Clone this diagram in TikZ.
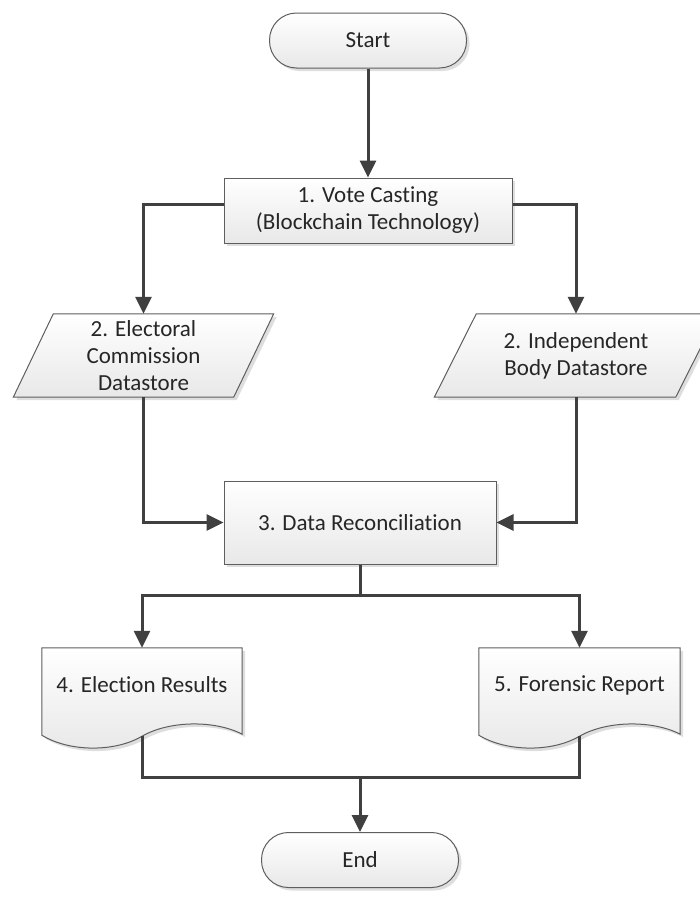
\documentclass[tikz,border=0pt]{standalone}
\usepackage{fontspec}
\setmainfont{Carlito}[Ligatures=NoCommon]
\usepackage{tikz}
\usetikzlibrary{arrows.meta}
\usetikzlibrary{calc,shadows}
\pgfdeclarelayer{background}
\pgfsetlayers{background,main}
\definecolor{linegray}{HTML}{404040}
\definecolor{edgegray}{HTML}{5E5E5E}
\definecolor{textgray}{HTML}{262626}
\tikzset{
    shapefill/.style={draw=edgegray, line width=1pt, top color=white, bottom color=black!9,
        drop shadow={shadow xshift=3pt, shadow yshift=-3pt, fill=black!13, opacity=1}},
    flowtext/.style={font=\fontsize{23}{27}\selectfont, text=textgray, align=center},
    terminal/.style={shapefill, flowtext, rectangle, rounded corners=27pt,
        minimum width=197pt, minimum height=55pt},
    process/.style={shapefill, flowtext, rectangle},
    textonly/.style={flowtext, draw=none, inner sep=0pt},
    flowline/.style={draw=linegray, line width=3pt},
    flowarrow/.style={flowline, -{Triangle[length=17pt,width=16pt]}},
}
\begin{document}
\begin{tikzpicture}[x=1pt, y=-1pt]
    \useasboundingbox (0,0) rectangle (700,897);
    % terminals and process boxes
    \node[terminal] (start) at (368,40.5) {Start};
    \node[process, minimum width=288pt, minimum height=65pt] (vote) at (368,210.5)
        {1. Vote Casting\\(Blockchain Technology)};
    \node[process, minimum width=272pt, minimum height=83pt] (rec) at (360,522.5)
        {3. Data Reconciliation};
    \node[terminal] (end) at (360,860) {End};
    % datastores
    \node[textonly, minimum width=220pt, minimum height=83pt] (ec) at (143.5,355.5)
        {2. Electoral\\Commission\\Datastore};
    \node[textonly, minimum width=241pt, minimum height=83pt] (ib) at (576,355.5)
        {2. Independent\\Body Datastore};
    % documents
    \node[textonly, minimum width=200pt, minimum height=74pt] (er) at (142,685)
        {4. Election Results};
    \node[textonly, minimum width=201pt, minimum height=74pt] (fr) at (579.5,685)
        {5. Forensic Report};
    \coordinate (er-b) at ($(er.south)+(0,14)$);
    \coordinate (fr-b) at ($(fr.south)+(0,14)$);

    \begin{pgfonlayer}{background}
        \path[shapefill] ($(ec.south west)+(-20,0)$) -- ($(ec.north west)+(20,0)$)
            -- ($(ec.north east)+(20,0)$) -- ($(ec.south east)+(-20,0)$) -- cycle;
        \path[shapefill] ($(ib.south west)+(-21,0)$) -- ($(ib.north west)+(21,0)$)
            -- ($(ib.north east)+(21,0)$) -- ($(ib.south east)+(-21,0)$) -- cycle;
        \foreach \doc in {er,fr} {
            \path[shapefill] (\doc.north west) -- ($(\doc.south west)+(0,13)$)
                .. controls +(28,17) and +(-27,16) .. (\doc-b)
                .. controls +(28,-16) and +(-27,-14) .. ($(\doc.south east)+(0,12)$)
                -- (\doc.north east) -- cycle;
        }
    \end{pgfonlayer}

    % connectors
    \draw[flowarrow] (start.south) -- (vote.north);
    \draw[flowarrow] ([yshift=6pt]vote.west) -| (ec.north);
    \draw[flowarrow] ([yshift=6pt]vote.east) -| (ib.north);
    \draw[flowarrow] (ec.south) |- (rec.west);
    \draw[flowarrow] (ib.south) |- (rec.east);
    \coordinate (split) at (360,595);
    \draw[flowline] (rec.south) -- (split);
    \draw[flowarrow] (split) -| (er.north);
    \draw[flowarrow] (split) -| (fr.north);
    \coordinate (join) at (360,777);
    \draw[flowline] (er-b) |- (join) -| (fr-b);
    \draw[flowarrow] (join) -- (end.north);
\end{tikzpicture}
\end{document}
